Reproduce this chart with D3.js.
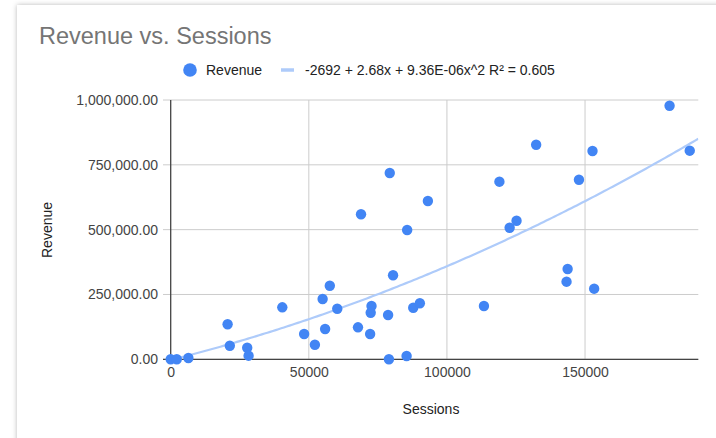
<!DOCTYPE html>
<html><head><meta charset="utf-8">
<script src="https://cdn.jsdelivr.net/npm/d3@7"></script>
<style>
html,body{margin:0;padding:0;background:#fff;}
svg{display:block;font-family:Arial,"Liberation Sans",sans-serif;}
</style></head>
<body>
<svg id="chart" width="716" height="438"></svg>
<script>
// ---- data ----
const sessions = [0, 2200, 6400, 20600, 21400, 27700, 28200, 40400, 48300, 52200,
  55000, 55900, 57600, 60300, 67800, 68900, 72700, 72400, 72200, 78700,
  79300, 79000, 80500, 85600, 85400, 87800, 90200, 93100, 113400, 119000,
  122700, 125200, 132300, 143300, 143700, 147800, 152700, 153300, 180600, 187900];
const revenue = [0, 0, 5000, 135000, 52400, 44700, 13900, 200500, 97600, 56300,
  232500, 116800, 283800, 195100, 123400, 559200, 205600, 179700, 97600, 170800,
  718500, 0, 324000, 498600, 12700, 199000, 216000, 610500, 205600, 685000,
  507500, 534500, 827600, 299300, 348200, 692600, 803300, 272300, 978000, 804500];
const trendCoef = [-2692, 2.68, 9.36e-6];
const yTicks = [0, 250000, 500000, 750000, 1000000];
const xTicks = [0, 50000, 100000, 150000];
const title = "Revenue vs. Sessions";
const seriesName = "Revenue";
const trendLabel = "-2692 + 2.68x + 9.36E-06x^2 R² = 0.605";
const xTitle = "Sessions", yTitle = "Revenue";

const svg = d3.select("#chart");
// card with shadow
const defs = svg.append("defs");
const f = defs.append("filter").attr("id","sh").attr("x","-5%").attr("y","-5%").attr("width","110%").attr("height","110%");
f.append("feDropShadow").attr("dx",0).attr("dy",0).attr("stdDeviation",2.5).attr("flood-color","#000").attr("flood-opacity",0.28);
svg.append("rect").attr("x",17).attr("y",5).attr("width",760).attr("height",500)
  .attr("fill","#fff").attr("filter","url(#sh)");

const x = d3.scaleLinear().domain([0, 191000]).range([170.7, 698.3]);
const y = d3.scaleLinear().domain([0, 1000000]).range([359.3, 100]);

// title
svg.append("text").attr("x",39).attr("y",44).attr("font-size",23.5).attr("fill","#757575").text(title);

// legend
const lg = svg.append("g");
lg.append("circle").attr("cx",190).attr("cy",70).attr("r",6.8).attr("fill","#4285f4");
lg.append("text").attr("x",206).attr("y",75).attr("font-size",14).attr("fill","#222").text(seriesName);
lg.append("line").attr("x1",281).attr("x2",294).attr("y1",70).attr("y2",70).attr("stroke","#aecbfa").attr("stroke-width",3.5);
lg.append("text").attr("x",305).attr("y",75).attr("font-size",14).attr("fill","#222").text(trendLabel);

// gridlines
const g = svg.append("g");
g.selectAll(".hg").data(yTicks).join("line")
  .attr("x1",163).attr("x2",698.3).attr("y1",d=>y(d)).attr("y2",d=>y(d))
  .attr("stroke","#cccccc").attr("stroke-width",1);
g.selectAll(".vg").data(xTicks.filter(d=>d>0)).join("line")
  .attr("x1",d=>x(d)).attr("x2",d=>x(d)).attr("y1",y(1000000)).attr("y2",y(0))
  .attr("stroke","#cccccc").attr("stroke-width",1);

// axes via d3 axis for labels
const yAxis = d3.axisLeft(y).tickValues(yTicks).tickSize(0).tickPadding(0)
  .tickFormat(d3.format(",.2f"));
const ya = svg.append("g").attr("transform","translate(158,0)").call(yAxis);
ya.select(".domain").remove();
ya.selectAll("text").attr("font-size",14).attr("fill","#444").attr("font-family","Arial,'Liberation Sans',sans-serif");

const xAxis = d3.axisBottom(x).tickValues(xTicks).tickSize(0).tickPadding(0).tickFormat(d3.format("d"));
const xa = svg.append("g").attr("transform","translate(0,367)").call(xAxis);
xa.select(".domain").remove();
xa.selectAll("text").attr("font-size",14).attr("fill","#444").attr("font-family","Arial,'Liberation Sans',sans-serif");

// baseline + y axis line
svg.append("line").attr("x1",163).attr("x2",698.3).attr("y1",y(0)).attr("y2",y(0)).attr("stroke","#444").attr("stroke-width",1.3);
svg.append("line").attr("x1",x(0)).attr("x2",x(0)).attr("y1",y(1000000)).attr("y2",y(0)).attr("stroke","#444").attr("stroke-width",1.3);

// axis titles
svg.append("text").attr("x",431).attr("y",414).attr("text-anchor","middle").attr("font-size",14).attr("fill","#222").text(xTitle);
svg.append("text").attr("transform","translate(52,230) rotate(-90)").attr("text-anchor","middle").attr("font-size",14).attr("fill","#222").text(yTitle);

// trendline
const clip = defs.append("clipPath").attr("id","pc");
clip.append("rect").attr("x",x(0)).attr("y",y(1000000)).attr("width",x(191000)-x(0)).attr("height",y(0)-y(1000000));
const xs = d3.range(0, 191001, 1000);
const tl = d3.line().x(d=>x(d)).y(d=>y(trendCoef[0]+trendCoef[1]*d+trendCoef[2]*d*d));
svg.append("path").attr("d",tl(xs)).attr("fill","none").attr("stroke","#aecbfa").attr("stroke-width",2.2).attr("clip-path","url(#pc)");

// points
svg.append("g").selectAll("circle").data(sessions.map((s,i)=>[s,revenue[i]])).join("circle")
  .attr("cx",d=>x(d[0])).attr("cy",d=>y(d[1])).attr("r",5.2).attr("fill","#4285f4");
</script>
</body></html>
